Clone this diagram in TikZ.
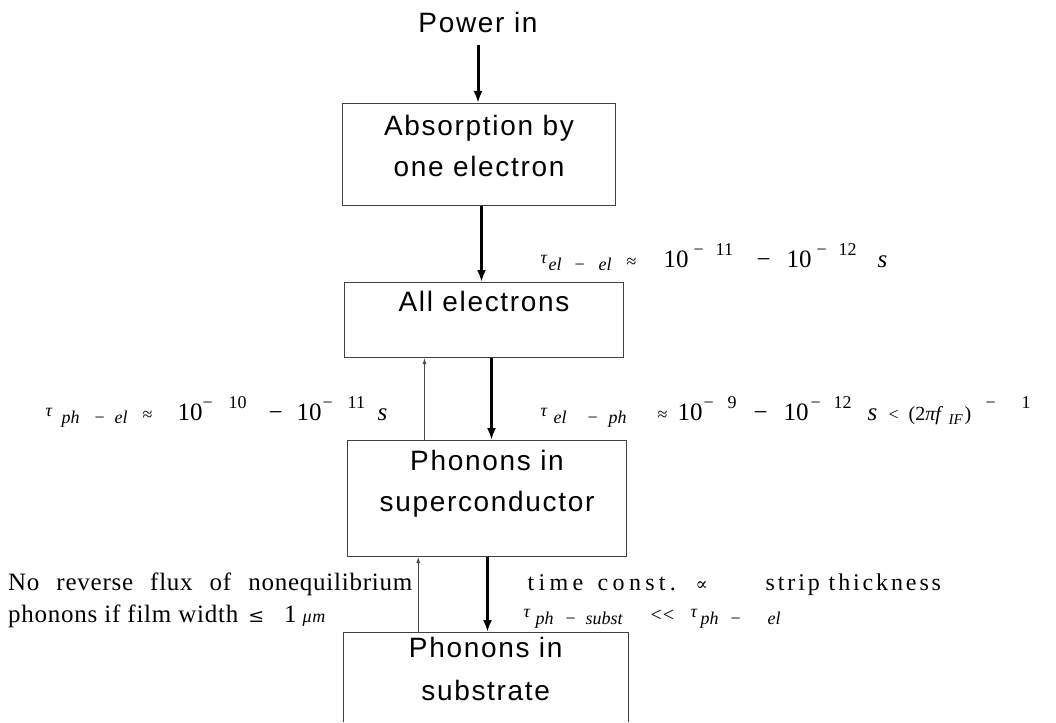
\documentclass[tikz,border=0pt]{standalone}
\usepackage{fontspec}
\setmainfont{Liberation Serif}
\newfontfamily\boxfont[LetterSpace=6]{Liberation Sans}
\newfontfamily\wideserif[LetterSpace=18]{Liberation Serif}
\newfontfamily\medserif[LetterSpace=12]{Liberation Serif}
\newfontfamily\noteserif[LetterSpace=3]{Liberation Serif}
\newfontfamily\symfont{DejaVu Serif}
\usetikzlibrary{arrows.meta}
\newcommand\lsm{\fontsize{18}{18}\selectfont}
\newcommand\lbgsz{\fontsize{25}{25}\selectfont}
\newcommand\lpc[3][0pt]{\rlap{\hspace{#2}\raisebox{#1}{#3}}}
\newcommand\ltau[1]{\lpc[4pt]{#1}{\lsm\textit{τ}}}
\newcommand\lsb[2]{\lpc[-3pt]{#1}{\lsm #2}}
\newcommand\lsu[2]{\lpc[12pt]{#1}{\lsm #2}}
\newcommand\lbg[2]{\lpc{#1}{\lbgsz #2}}
\newcommand\boxtext[4]{\parbox[t][#2][t]{#1}{\centering\rule{0pt}{#3}#4}}
\tikzset{
  boxn/.style={draw=black!75, line width=1pt, inner sep=0pt, anchor=north west,
    font=\boxfont\fontsize{28}{41}\selectfont},
  openbox/.style={inner sep=0pt, anchor=north west,
    font=\boxfont\fontsize{28}{43}\selectfont},
  lbl/.style={inner sep=0pt, anchor=base west},
  thickarr/.style={line width=3pt, -{Latex[length=12pt,width=9pt]}},
  thinarr/.style={line width=0.8pt, black!70, -{Latex[length=6pt,width=4pt]}},
}
\begin{document}
\begin{tikzpicture}[x=1pt,y=-1pt]
\useasboundingbox (0,0) rectangle (1056,722);
\node[inner sep=0pt, anchor=base, font=\boxfont\fontsize{28}{30}\selectfont] (pw) at (478,33) {Power in};
\node[boxn] (b1) at (342,103) {\boxtext{273pt}{102pt}{32pt}{Absorption by\\one electron}};
\node[boxn] (b2) at (344,282) {\boxtext{279pt}{75pt}{29pt}{All electrons}};
\node[boxn] (b3) at (347,440) {\boxtext{279pt}{116pt}{30pt}{Phonons in\\superconductor}};
\node[openbox] (b4) at (343,632) {\boxtext{285pt}{90pt}{25pt}{Phonons in\\substrate}};
\draw[draw=black!75, line width=1pt] (b4.south west) -- (b4.north west) -- (b4.north east) -- (b4.south east);

\draw[thickarr, shorten <=12pt] (pw.south) -- (pw.south |- b1.north);
\draw[thickarr] ([xshift=2.5pt]b1.south) -- ([xshift=2.5pt]b1.south |- b2.north);
\draw[thickarr] ([xshift=7.5pt]b2.south) -- ([xshift=7.5pt]b2.south |- b3.north);
\draw[thinarr] ([xshift=-62.5pt]b3.north) -- ([xshift=-62.5pt]b3.north |- b2.south);
\draw[thickarr] ([xshift=0.5pt]b3.south) -- ([xshift=0.5pt]b3.south |- b4.north);
\draw[thinarr] ([xshift=-67.5pt]b4.north) -- ([xshift=-67.5pt]b4.north |- b3.south);

\node[lbl] (tel) at (540,267) {\ltau{0pt}\lsb{8pt}{\textit{el}}\lsb{34pt}{−}\lsb{58pt}{\textit{el}}\lpc{86pt}{\lsm ≈}\lbg{123pt}{10}\lsu{153pt}{−}\lsu{175pt}{11}\lbg{216pt}{−}\lbg{246pt}{10}\lsu{276pt}{−}\lsu{298pt}{12}\lbg{337pt}{\textit{s}}\hspace{347pt}};
\node[lbl] (tphel) at (45,420) {\ltau{0pt}\lsb{16pt}{\textit{ph}}\lsb{49pt}{−}\lsb{69pt}{\textit{el}}\lpc{97pt}{\lsm ≈}\lbg{132pt}{10}\lsu{157pt}{−}\lsu{183pt}{10}\lbg{223pt}{−}\lbg{251pt}{10}\lsu{277pt}{−}\lsu{302pt}{11}\lbg{332pt}{\textit{s}}\hspace{345pt}};
\node[lbl] (telph) at (540,420) {\ltau{0pt}\lsb{13pt}{\textit{el}}\lsb{47pt}{−}\lsb{68pt}{\textit{ph}}\lpc{117pt}{\lsm ≈}\lbg{137pt}{10}\lsu{163pt}{−}\lsu{187pt}{9}\lbg{213pt}{−}\lbg{243pt}{10}\lsu{270pt}{−}\lsu{293pt}{12}\lbg{327pt}{\textit{s}}\lpc{348pt}{\lsm <}\lpc{368pt}{\fontsize{20}{20}\selectfont (2\textit{πf}}\lpc[-4pt]{408pt}{\fontsize{15}{15}\selectfont\textit{IF}}\lpc{424pt}{\fontsize{20}{20}\selectfont )}\lsu{445pt}{−}\lsu{481pt}{1}\hspace{492pt}};
\node[lbl, font=\noteserif\fontsize{25}{25}\selectfont] (note1) at (8,590) {\makebox[404pt][s]{No reverse flux of nonequilibrium}};
\node[lbl, font=\noteserif\fontsize{25}{25}\selectfont] (note2) at (8,622) {phonons if film width\hspace{10pt}{\symfont\fontsize{19}{19}\selectfont ≤}\hspace{20pt}1\hspace{6pt}{\lsm\textit{μm}}};
\node[lbl, font=\fontsize{24}{24}\selectfont] (tc) at (523,590) {\lpc{4pt}{\wideserif time}\lpc{74pt}{\wideserif const.}\lpc{172pt}{\symfont\lsm ∝}\lpc{242pt}{\medserif strip}\lpc{305pt}{\medserif thickness}\hspace{420pt}};
\node[lbl] (tsub) at (523,621) {\ltau{0pt}\lsb{12pt}{\textit{ph}}\lsb{42pt}{−}\lsb{62pt}{\textit{subst}}\lpc{127pt}{\fontsize{20}{20}\selectfont <\kern1pt<}\ltau{167pt}\lsb{177pt}{\textit{ph}}\lsb{207pt}{−}\lsb{244pt}{\textit{el}}\hspace{262pt}};
\end{tikzpicture}
\end{document}
